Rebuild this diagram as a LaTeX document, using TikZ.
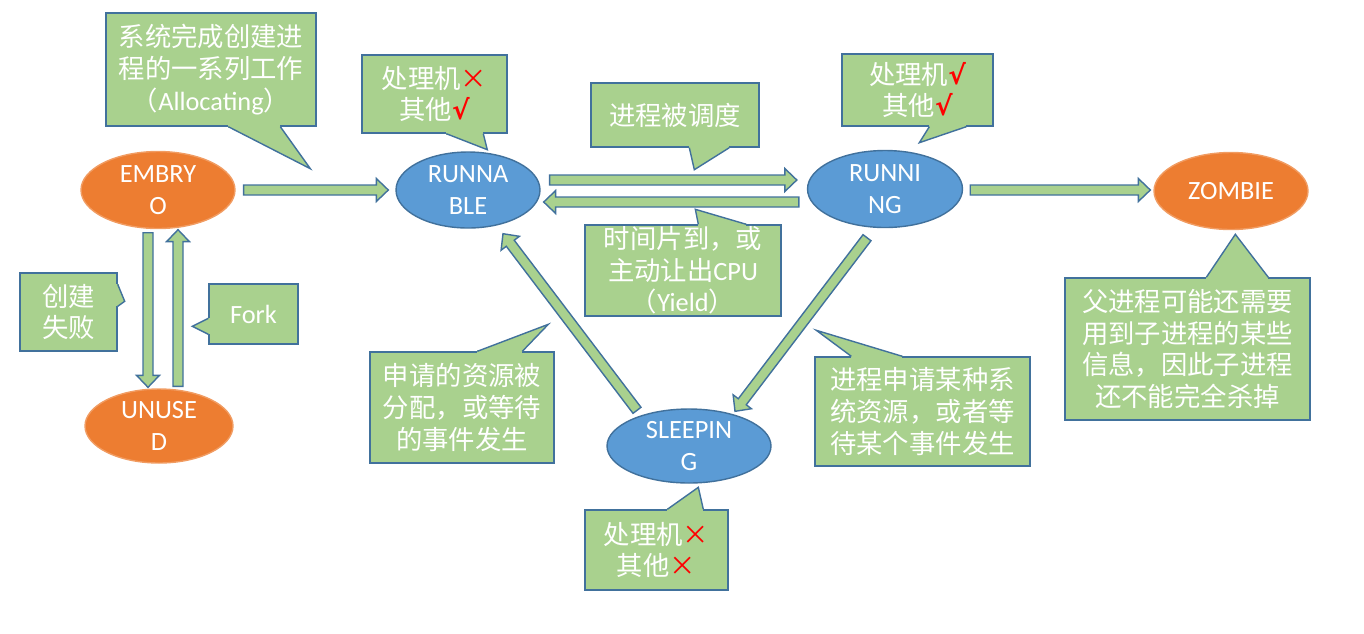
\documentclass[tikz,border=0pt]{standalone}
\usepackage{fontspec}
\setmainfont{Carlito}
\newfontfamily\cjk{Noto Sans CJK SC}
\newfontfamily\symfam{DejaVu Sans}
\usetikzlibrary{shapes.geometric,calc}
\definecolor{callgreen}{HTML}{A9D18E}
\definecolor{edgeblue}{HTML}{41719C}
\definecolor{stateblue}{HTML}{5B9BD5}
\definecolor{stateorange}{HTML}{ED7D31}
\definecolor{orangeedge}{HTML}{F19C62}
\newcommand\en[1]{{\rmfamily #1}}
\newcommand\markno{{\color{red}\cjk ×}}
\newcommand\markok{{\color{red}\symfam\bfseries √}}
% block arrow from #1 to #2
\newcommand\blockarrow[2]{%
  \coordinate (ba-s) at #1;
  \coordinate (ba-t) at #2;
  \coordinate (ba-h) at ($(ba-t)!0.24cm!(ba-s)$);
  \draw[barrow] ($(ba-s)!0.1cm!90:(ba-t)$) -- ($(ba-h)!0.1cm!-90:(ba-s)$)
    -- ($(ba-h)!0.23cm!-90:(ba-s)$) -- (ba-t) -- ($(ba-h)!0.23cm!90:(ba-s)$)
    -- ($(ba-h)!0.1cm!90:(ba-s)$) -- ($(ba-s)!0.1cm!-90:(ba-t)$) -- cycle;
}
% callout pointer: base, tip, base
\newcommand\pointer[3]{%
  \fill[callfill] #1 -- #2 -- #3 -- cycle;
  \draw[draw=callgreen,line width=1.4pt] #1 -- #3;
  \draw[callline] #1 -- #2 -- #3;
}
\begin{document}
\begin{tikzpicture}[x=0.02cm,y=-0.02cm,
  procstate/.style={ellipse,inner sep=0pt,text=white,align=center,line width=0.8pt,
    font=\fontsize{15}{18}\selectfont},
  bluestate/.style={procstate,fill=stateblue,draw=edgeblue},
  orangestate/.style={procstate,fill=stateorange,draw=orangeedge},
  callbox/.style={rectangle,draw=edgeblue,fill=callgreen,line width=0.8pt,inner sep=0pt,
    text=white,align=center,font=\cjk\fontsize{15}{18}\selectfont},
  callfill/.style={fill=callgreen},
  callline/.style={draw=edgeblue,line width=0.8pt},
  barrow/.style={draw=edgeblue,fill=callgreen,line width=0.8pt}]
\useasboundingbox (0,0) rectangle (1364,633);

% states
\node[orangestate,minimum width=3.08cm,minimum height=1.54cm] (embryo) at (158,190) {EMBRY\\O};
\node[bluestate,minimum width=2.88cm,minimum height=1.52cm] (runnable) at (468,190) {RUNNA\\BLE};
\node[bluestate,minimum width=3.1cm,minimum height=1.54cm] (running) at (885,189) {RUNNI\\NG};
\node[orangestate,minimum width=3.08cm,minimum height=1.54cm] (zombie) at (1231,191) {ZOMBIE};
\node[orangestate,minimum width=2.96cm,minimum height=1.48cm] (unused) at (159,426) {UNUSE\\D};
\node[bluestate,minimum width=3.28cm,minimum height=1.48cm] (sleeping) at (689,446) {SLEEPIN\\G};

% transitions
\blockarrow{([shift={(8,0)}]embryo.east)}{([shift={(-7,0)}]runnable.west)}
\blockarrow{([shift={(9,-10)}]runnable.east)}{([shift={(-10,-9)}]running.west)}
\blockarrow{([shift={(-8,13)}]running.west)}{([shift={(3,12)}]runnable.east)}
\blockarrow{([shift={(7,1)}]running.east)}{([shift={(-3,-1)}]zombie.west)}
\blockarrow{([shift={(-10,3.5)}]embryo.south)}{([shift={(-11,-1)}]unused.north)}
\blockarrow{([shift={(19,-2)}]unused.north)}{([shift={(20,0.5)}]embryo.south)}
\blockarrow{([shift={(-52,2)}]sleeping.north)}{([shift={(35,5)}]runnable.south)}
\blockarrow{([shift={(-18,9.5)}]running.south)}{([shift={(46,3)}]sleeping.north)}

% callouts
\node[callbox,minimum width=4.2cm,minimum height=2.26cm] (alloc) at (211,69.5)
  {系统完成创建进\\程的一系列工作\\（\en{Allocating}）};
\node[callbox,minimum width=2.9cm,minimum height=1.56cm] (rnblnote) at (434.5,94)
  {处理机\markno\\其他\markok};
\node[callbox,minimum width=3.36cm,minimum height=1.28cm] (sched) at (675,115) {进程被调度};
\node[callbox,minimum width=3.92cm,minimum height=1.82cm] (yield) at (683,270.5)
  {时间片到，或\\主动让出\en{CPU}\\（\en{Yield}）};
\node[callbox,minimum width=3.02cm,minimum height=1.44cm] (runnote) at (917.5,90)
  {处理机\markok\\其他\markok};
\node[callbox,minimum width=4.9cm,minimum height=2.84cm] (zombnote) at (1187.5,349)
  {父进程可能还需要\\用到子进程的某些\\信息，因此子进程\\还不能完全杀掉};
\node[callbox,minimum width=4.3cm,minimum height=2.18cm] (request) at (922.5,411.5)
  {进程申请某种系\\统资源，或者等\\待某个事件发生};
\node[callbox,minimum width=3.68cm,minimum height=2.22cm] (wakeup) at (462,407.5)
  {申请的资源被\\分配，或等待\\的事件发生};
\node[callbox,minimum width=2.86cm,minimum height=1.6cm] (slpnote) at (656.5,550)
  {处理机\markno\\其他\markno};
\node[callbox,minimum width=1.94cm,minimum height=1.56cm] (fail) at (68.5,312) {创建\\失败};
\node[callbox,minimum width=1.78cm,minimum height=1.2cm] (fork) at (253.5,314) {\en{Fork}};

\pointer{($(alloc.south west)+(123,0)$)}{($(alloc.south west)+(205,42)$)}{($(alloc.south west)+(175,0)$)}
\pointer{($(rnblnote.south west)+(85,0)$)}{($(rnblnote.south west)+(126,16)$)}{($(rnblnote.south west)+(122,0)$)}
\pointer{($(sched.south west)+(99,0)$)}{($(sched.south west)+(104,22)$)}{($(sched.south west)+(139,0)$)}
\pointer{($(yield.north west)+(114,0)$)}{($(yield.north west)+(111,-15)$)}{($(yield.north west)+(162,0)$)}
\pointer{($(runnote.south west)+(88,0)$)}{($(runnote.south west)+(78,16)$)}{($(runnote.south west)+(125,0)$)}
\pointer{($(zombnote.north west)+(142,0)$)}{($(zombnote.north west)+(171,-43)$)}{($(zombnote.north west)+(204,0)$)}
\pointer{($(request.north west)+(37,0)$)}{($(request.north west)+(2,-26)$)}{($(request.north west)+(88,0)$)}
\pointer{($(wakeup.north west)+(108,0)$)}{($(wakeup.north west)+(179,-27)$)}{($(wakeup.north west)+(153,0)$)}
\pointer{($(slpnote.north west)+(83,0)$)}{($(slpnote.north west)+(114,-22)$)}{($(slpnote.north west)+(119,0)$)}
\pointer{($(fail.north east)+(0,12)$)}{($(fail.north east)+(7,29)$)}{($(fail.north east)+(0,34)$)}
\pointer{($(fork.north west)+(0,35)$)}{($(fork.north west)+(-16,43)$)}{($(fork.north west)+(0,51)$)}
\end{tikzpicture}
\end{document}
